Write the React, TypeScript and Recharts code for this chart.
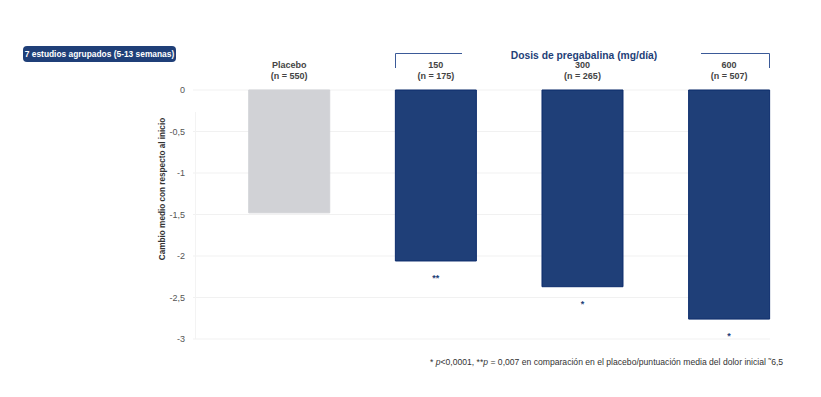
import { BarChart, Bar, XAxis, YAxis, CartesianGrid, LabelList, Cell } from "recharts";

const groups = ["Placebo", "150", "300", "600"];
const sizes = ["n = 550", "n = 175", "n = 265", "n = 507"];
const changes = [-1.48, -2.06, -2.37, -2.76];
const marks = ["", "**", "*", "*"];
const yTicks = [0, -0.5, -1, -1.5, -2, -2.5, -3];

const FONT = "'Liberation Sans', Arial, sans-serif";
const NAVY = "#1f3f78";

const data = groups.map((g, i) => ({
  x: i,
  group: g,
  n: sizes[i],
  change: changes[i],
  mark: marks[i],
}));

function HeadLabel(props: any) {
  const { x, y, width, height, index } = props;
  const top = Math.min(y, y + height);
  const cx = x + width / 2;
  const d = data[index];
  return (
    <g>
      <text x={cx} y={top - 22} textAnchor="middle" fontSize={9} fontWeight="bold" fill="#444" fontFamily={FONT}>
        {d.group}
      </text>
      <text x={cx} y={top - 11} textAnchor="middle" fontSize={9} fontWeight="bold" fill="#444" fontFamily={FONT}>
        ({d.n})
      </text>
    </g>
  );
}

function StarLabel(props: any) {
  const { x, y, width, height, value } = props;
  if (!value) return null;
  const bottom = Math.max(y, y + height);
  return (
    <text x={x + width / 2} y={bottom + 20} textAnchor="middle" fontSize={9} fontWeight="bold" fill={NAVY} fontFamily={FONT}>
      {value}
    </text>
  );
}

function AxisTitle() {
  return (
    <text
      x={165}
      y={189}
      transform="rotate(-90 165 189)"
      textAnchor="middle"
      fontSize={8.2}
      fontWeight="bold"
      fill="#333"
      fontFamily={FONT}
    >
      Cambio medio con respecto al inicio
    </text>
  );
}

export default function App() {
  return (
    <div style={{ position: "absolute", left: 0, top: 0, width: 821, height: 397, background: "#fff", fontFamily: FONT }}>
      <div
        style={{
          position: "absolute",
          left: 23,
          top: 46,
          width: 153,
          height: 16,
          lineHeight: "16px",
          textAlign: "center",
          background: NAVY,
          color: "#fff",
          borderRadius: 4,
          fontSize: 8.4,
          fontWeight: "bold",
          whiteSpace: "nowrap",
        }}
      >
        7 estudios agrupados (5-13 semanas)
      </div>

      <BarChart width={821} height={397} data={data} margin={{ top: 90, right: 51, bottom: 58, left: 153 }}>
        <CartesianGrid stroke="#f1f1f1" vertical={false} />
        <XAxis dataKey="x" type="number" domain={[-0.655, 3.28]} hide />
        <YAxis
          domain={[-3, 0]}
          ticks={yTicks}
          width={40}
          axisLine={false}
          tickLine={false}
          tick={{ fontSize: 9, fill: "#555", fontFamily: FONT }}
          tickFormatter={(v: number) => String(v).replace(".", ",")}
          label={<AxisTitle />}
        />
        <Bar dataKey="change" barSize={81} isAnimationActive={false}>
          {data.map((d, i) => (
            <Cell key={d.group} fill={i === 0 ? "#d1d2d6" : NAVY} stroke={i === 0 ? "#d1d2d6" : "#0c2c6c"} />
          ))}
          <LabelList dataKey="group" content={HeadLabel} />
          <LabelList dataKey="mark" content={StarLabel} />
        </Bar>
      </BarChart>

      <svg style={{ position: "absolute", left: 0, top: 0 }} width={821} height={397}>
        <line x1={195.5} y1={112} x2={195.5} y2={339} stroke="#f3f3f3" />
        <polyline points="395.5,68 395.5,53.5 462,53.5" fill="none" stroke="#3b5a98" strokeWidth={1} />
        <polyline points="701,53.5 769.5,53.5 769.5,68" fill="none" stroke="#3b5a98" strokeWidth={1} />
        <text x={584} y={59} textAnchor="middle" fontSize={10.3} fontWeight="bold" fill={NAVY} fontFamily={FONT}>
          Dosis de pregabalina (mg/día)
        </text>
      </svg>

      <div
        style={{
          position: "absolute",
          left: 430,
          top: 357,
          fontSize: 8.6,
          color: "#333",
          whiteSpace: "nowrap",
        }}
      >
        * <i>p</i>&lt;0,0001, **<i>p</i> = 0,007 en comparación en el placebo/puntuación media del dolor inicial ˜6,5
      </div>
    </div>
  );
}
